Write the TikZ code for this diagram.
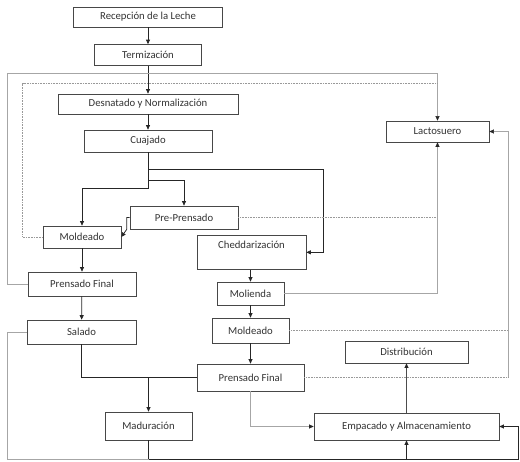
\documentclass[tikz,border=0pt]{standalone}
\usepackage{fontspec}
\setmainfont{Carlito}
\usetikzlibrary{arrows.meta}
\begin{document}
\begin{tikzpicture}[x=1pt,y=-1pt,
  box/.style={draw=black!72,line width=0.7pt,fill=white,text=black!80,inner sep=0pt,font=\fontsize{10.7}{12}\selectfont},
  tip/.style={-{Triangle[length=4.5pt,width=4pt,color=black!85]}},
  conn/.style={draw=black!85,line width=0.75pt},
  gline/.style={draw=black!35,line width=0.6pt},
  gdot/.style={draw=black!40,line width=0.6pt,densely dotted}]
\useasboundingbox (0,0) rectangle (520,462);
\node[box,minimum width=149pt,minimum height=20pt] (rec) at (148,17) {Recepción de la Leche};
\node[box,minimum width=107pt,minimum height=21pt] (term) at (148,55) {Termización};
\node[box,minimum width=180pt,minimum height=20pt] (desn) at (148,104) {Desnatado y Normalización};
\node[box,minimum width=128pt,minimum height=22pt] (cuaj) at (148,141) {Cuajado};
\node[box,minimum width=103pt,minimum height=21pt] (lact) at (437.5,131.5) {Lactosuero};
\node[box,minimum width=108pt,minimum height=23pt] (pre) at (184,217.5) {Pre-Prensado};
\node[box,minimum width=78pt,minimum height=22pt] (moldL) at (82,237) {Moldeado};
\node[box,minimum width=109pt,minimum height=34pt,anchor=north] (ched) at (251.5,235) {\raisebox{0pt}[0pt][8pt]{Cheddarización}};
\node[box,minimum width=67pt,minimum height=23pt] (mol) at (250.5,293.5) {Molienda};
\node[box,minimum width=77pt,minimum height=25pt] (moldR) at (250.5,330.5) {Moldeado};
\node[box,minimum width=108pt,minimum height=24pt] (prfL) at (82,284) {Prensado Final};
\node[box,minimum width=109pt,minimum height=24pt] (sal) at (81.5,332) {Salado};
\node[box,minimum width=107pt,minimum height=27pt] (prfR) at (250.5,377.5) {Prensado Final};
\node[box,minimum width=87pt,minimum height=28pt] (mad) at (148.5,426) {Maduración};
\node[box,minimum width=123pt,minimum height=22pt] (dist) at (406.5,352) {Distribución};
\node[box,minimum width=185pt,minimum height=27pt] (emp) at (406.5,426.5) {Empacado y Almacenamiento};
% main flow
\draw[conn,tip] (rec) -- (term);
\draw[conn,tip] (term) -- (desn);
\draw[conn,tip] (desn) -- (cuaj);
\draw[conn,tip] (cuaj.south) -- ++(0,36) -| (moldL.north);
\draw[conn,tip] ([yshift=-17pt]cuaj.south) -- ++(175,0) |- (ched.east);
\draw[conn,tip] ([yshift=-28pt]cuaj.south) -| (pre.north);
\draw[conn,tip] (pre.west) -- ++(-3,0) -- ++(0,12) -- (moldL.east);
\draw[conn,tip] (moldL) -- (prfL);
\draw[conn,tip] (prfL) -- (sal);
\draw[conn] (sal.south) |- (prfR.west);
\draw[conn,tip] (mad.north |- prfR.west) -- (mad.north);
\draw[conn,tip] (ched.south -| mol.north) -- (mol.north);
\draw[conn,tip] (mol) -- (moldR);
\draw[conn,tip] (moldR) -- (prfR);
\draw[conn,tip] (mad.south) |- ([shift={(19pt,-32.5pt)}]emp.east) |- (emp.east);
\draw[conn,tip] ([yshift=-19pt]emp.south) -- (emp.south);
\draw[conn,draw=black!70,tip] (emp.north) -- (dist.south);
% whey and by-product lines
\draw[gline,tip] (prfR.south) |- (emp.west);
\draw[gline,tip] (prfL.west) -- ++(-20,0) |- ([yshift=47pt]lact.north) -- (lact.north);
\draw[gdot] (moldL.west) -- ++(-20,0) |- ([yshift=37pt]lact.north);
\draw[gdot] (pre.east) -- (lact.south |- pre.east);
\draw[gline,tip] (mol.east) -| (lact.south);
\draw[gdot] (moldR.east) -- ([xshift=19pt]lact.east |- moldR.east);
\draw[gdot] (prfR.east) -- ([xshift=19pt]lact.east |- prfR.east);
\draw[gline,tip] ([xshift=19pt]lact.east |- prfR.east) |- (lact.east);
\draw[gline] (sal.west) -- ++(-19,0) |- ([yshift=-19pt]mad.south);
\end{tikzpicture}
\end{document}
